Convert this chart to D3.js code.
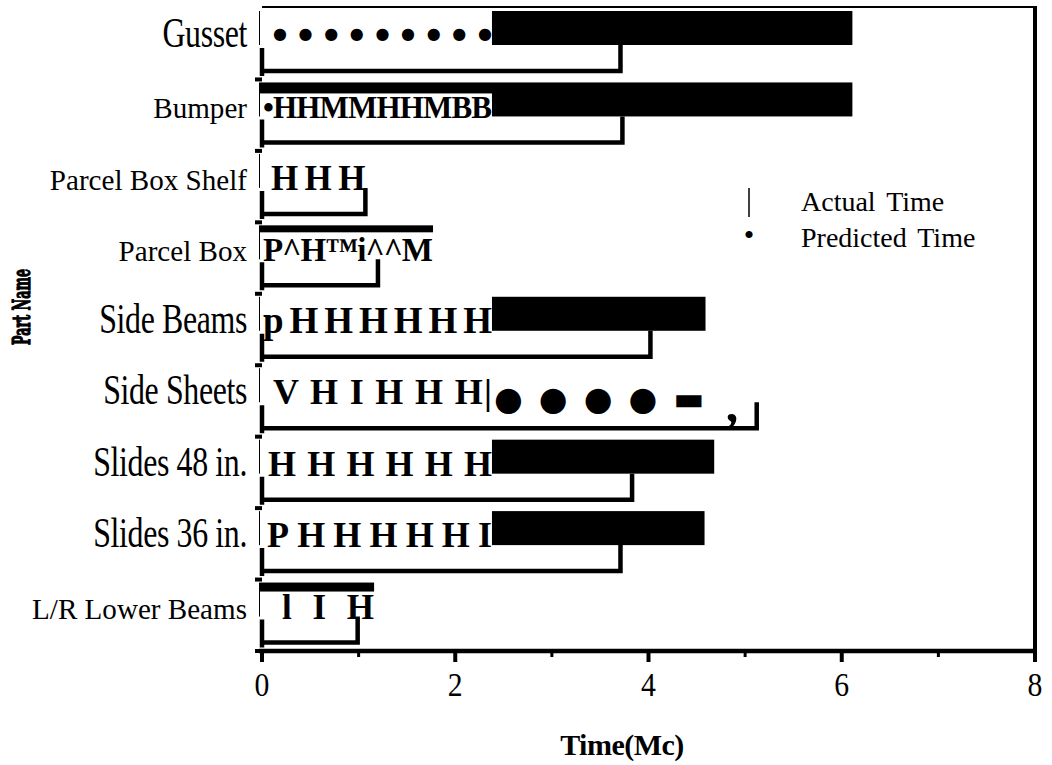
<!DOCTYPE html>
<html>
<head>
<meta charset="utf-8">
<script src="https://cdn.jsdelivr.net/npm/d3@7"></script>
<style>
body { margin: 0; background: #fff; }
text { font-family: "Liberation Serif", "Times New Roman", serif; fill: #000; }
</style>
</head>
<body>
<div id="chart"></div>
<script>
var width = 1052;
var height = 765;

var parts = ["Gusset", "Bumper", "Parcel Box Shelf", "Parcel Box", "Side Beams", "Side Sheets", "Slides 48 in.", "Slides 36 in.", "L/R Lower Beams"];
var bigLabel = [true, false, false, false, true, true, true, true, false];
var predicted = [6.11, 6.11, 1.07, 1.77, 4.59, 4.8, 4.68, 4.58, 1.16];
var actual = [3.71, 3.73, 1.07, 1.20, 4.02, 5.12, 3.83, 3.71, 0.99];
var majorTicks = [0, 2, 4, 6, 8];
var minorTicks = [1, 3, 5, 7];
var legendLabels = ["Actual Time", "Predicted Time"];

// the scan is unreadable over the left part of each predicted bar
var scanCover = [2.38, 2.38, 1.07, 1.77, 2.38, 4.8, 2.38, 2.38, 1.16];
var scanText = ["\u25CF\u25CF\u25CF\u25CF\u25CF\u25CF\u25CF\u25CF\u25CF", "\u2022HHMMHHMBB", "H H H", "P^H\u2122i^^M", "pHHHHHH", "V H I H H H|", "H H H H H H", "PHHHHHI", "l I H"];
var scanTail = ["", "", "", "", "", "\u25CF \u25CF \u25CF \u25CF \u25AC", "", "", ""];
var scanTop = [0, 12, 0, 8, 0, 0, 0, 0, 10];
var scanStart = [11, 1, 9, 1, 1, 11, 6, 5, 20];
var scanSize = [16, 31, 35, 33, 37, 36, 36, 36, 35];

var svg = d3.select("#chart").append("svg")
	.attr("width", width)
	.attr("height", height);

var x = d3.scaleLinear().domain([0, 8]).range([262, 1035]);
var y = d3.scaleBand().domain(parts).range([8, 651]);

var rows = parts.map(function (p, i) {
	return {part: p, i: i, pred: predicted[i], act: actual[i]};
});

// frame
svg.append("line")
	.attr("x1", x(0)).attr("x2", x(8)).attr("y1", 7).attr("y2", 7)
	.attr("stroke", "#000").attr("stroke-width", 2);
svg.append("line")
	.attr("x1", x(8)).attr("x2", x(8)).attr("y1", 6).attr("y2", 651)
	.attr("stroke", "#000").attr("stroke-width", 4);

// predicted bars
svg.selectAll("rect.pred")
	.data(rows)
	.enter()
	.append("rect")
	.attr("class", "pred")
	.attr("x", x(0) - 3)
	.attr("y", function (d) { return y(d.part) + 3; })
	.attr("width", function (d) { return x(d.pred) - x(0) + 3; })
	.attr("height", 34)
	.attr("fill", "#000");

// unreadable part of the scan
svg.selectAll("rect.scan")
	.data(rows)
	.enter()
	.append("rect")
	.attr("class", "scan")
	.attr("x", x(0) - 2)
	.attr("y", function (d) { return y(d.part) + 2 + scanTop[d.i]; })
	.attr("width", function (d) {
		var end = Math.min(d.pred, scanCover[d.i]);
		return x(end) - x(0) + (end == d.pred ? 3 : 2);
	})
	.attr("height", function (d) { return 36 - scanTop[d.i]; })
	.attr("fill", "#fff");

svg.selectAll("text.scan")
	.data(rows)
	.enter()
	.append("text")
	.attr("class", "scan")
	.attr("x", function (d) { return x(0) + scanStart[d.i]; })
	.attr("y", function (d) { return y(d.part) + (d.i == 0 ? 31 : 39); })
	.attr("textLength", function (d) { return x(Math.min(d.pred, scanCover[d.i], 2.38)) - x(0) - scanStart[d.i]; })
	.attr("lengthAdjust", "spacing")
	.style("font-family", function (d) { return d.i == 0 ? "DejaVu Sans" : null; })
	.style("font-weight", "bold")
	.style("font-size", function (d) { return scanSize[d.i] + "px"; })
	.text(function (d) { return scanText[d.i]; });

var tailRows = rows.filter(function (d) { return scanTail[d.i] != ""; });
svg.selectAll("text.tail")
	.data(tailRows)
	.enter()
	.append("text")
	.attr("class", "tail")
	.attr("x", x(2.4))
	.attr("y", function (d) { return y(d.part) + 45; })
	.attr("textLength", x(4.58) - x(2.4))
	.attr("lengthAdjust", "spacing")
	.style("font-family", "DejaVu Sans")
	.style("font-size", "33px")
	.text(function (d) { return scanTail[d.i]; });
svg.selectAll("text.comma")
	.data(tailRows)
	.enter()
	.append("text")
	.attr("class", "comma")
	.attr("x", function (d) { return x(d.pred); })
	.attr("y", function (d) { return y(d.part) + 56; })
	.style("font-size", "50px")
	.style("font-weight", "bold")
	.text(",");

// actual bars, open at the top
svg.selectAll("path.act")
	.data(rows)
	.enter()
	.append("path")
	.attr("class", "act")
	.attr("d", function (d) {
		var top = y(d.part) + 37;
		var bottom = y(d.part) + 63;
		return "M" + x(0) + "," + (top + 3) + "V" + (bottom + 5) +
			"M" + (x(0) - 2) + "," + bottom + "H" + x(d.act) + "V" + top;
	})
	.attr("fill", "none")
	.attr("stroke", "#000")
	.attr("stroke-width", 4.5);

// y axis ticks between parts
svg.selectAll("line.ytick")
	.data(parts)
	.enter()
	.append("line")
	.attr("class", "ytick")
	.attr("x1", x(0) - 7).attr("x2", x(0))
	.attr("y1", function (d) { return y(d) + y.bandwidth(); })
	.attr("y2", function (d) { return y(d) + y.bandwidth(); })
	.attr("stroke", "#000").attr("stroke-width", 4);

// part labels
svg.selectAll("text.part")
	.data(rows)
	.enter()
	.append("text")
	.attr("class", "part")
	.attr("text-anchor", "end")
	.attr("transform", function (d) {
		var s = bigLabel[d.i] ? 0.76 : 0.97;
		return "translate(247," + (y(d.part) + 39) + ") scale(" + s + ",1)";
	})
	.style("font-size", function (d) { return bigLabel[d.i] ? "42px" : "30px"; })
	.style("letter-spacing", function (d) { return bigLabel[d.i] ? "-0.5px" : "0px"; })
	.text(function (d) { return d.part; });

// x axis
svg.append("line")
	.attr("x1", x(0) - 3).attr("x2", x(8) + 2).attr("y1", 651).attr("y2", 651)
	.attr("stroke", "#000").attr("stroke-width", 4.5);
svg.selectAll("line.major")
	.data(majorTicks)
	.enter()
	.append("line")
	.attr("class", "major")
	.attr("x1", function (d) { return x(d); })
	.attr("x2", function (d) { return x(d); })
	.attr("y1", 651).attr("y2", 662)
	.attr("stroke", "#000").attr("stroke-width", 4);
svg.selectAll("line.minor")
	.data(minorTicks)
	.enter()
	.append("line")
	.attr("class", "minor")
	.attr("x1", function (d) { return x(d); })
	.attr("x2", function (d) { return x(d); })
	.attr("y1", 651).attr("y2", 657)
	.attr("stroke", "#000").attr("stroke-width", 3);
svg.selectAll("text.xlab")
	.data(majorTicks)
	.enter()
	.append("text")
	.attr("class", "xlab")
	.attr("transform", function (d) { return "translate(" + x(d) + ",696) scale(0.9,1)"; })
	.attr("text-anchor", "middle")
	.style("font-size", "33px")
	.text(function (d) { return d; });

svg.append("text")
	.attr("x", 622)
	.attr("y", 755)
	.attr("text-anchor", "middle")
	.style("font-size", "30px")
	.style("font-weight", "bold")
	.style("letter-spacing", "-0.5px")
	.text("Time(Mc)");

svg.append("text")
	.attr("transform", "translate(30,307) rotate(-90)")
	.attr("text-anchor", "middle")
	.attr("textLength", 76)
	.attr("lengthAdjust", "spacingAndGlyphs")
	.style("font-family", "DejaVu Serif")
	.style("font-size", "25px")
	.style("font-weight", "900")
	.style("stroke", "#000")
	.style("stroke-width", "1.2px")
	.text("Part Name");

// legend
var legend = svg.append("g").attr("transform", "translate(749,0)");
legend.append("line")
	.attr("x1", 0).attr("x2", 0).attr("y1", 188).attr("y2", 217)
	.attr("stroke", "#000").attr("stroke-width", 1.5);
legend.append("text")
	.attr("x", 0)
	.attr("y", 245)
	.attr("text-anchor", "middle")
	.style("font-size", "30px")
	.text("\u2022");
legend.selectAll("text.leg")
	.data(legendLabels)
	.enter()
	.append("text")
	.attr("class", "leg")
	.attr("x", 52)
	.attr("y", function (d, i) { return 211 + i * 36; })
	.style("font-size", "28px")
	.style("word-spacing", "4px")
	.text(function (d) { return d; });
</script>
</body>
</html>
